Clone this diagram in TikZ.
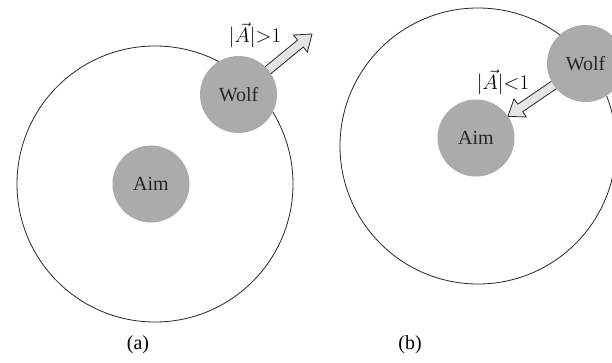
\documentclass[tikz,border=0pt]{standalone}
\usepackage{fontspec}
\setmainfont{Liberation Serif}
\usetikzlibrary{calc,backgrounds}

% fat hollow arrow from #1 to #2
\newcommand{\fatarrow}[2]{%
  \coordinate (fa-h) at ($(#2)!15pt!(#1)$);
  \draw[fatarrow] ($(#1)!4.5pt!90:(#2)$) -- ($(fa-h)!4.5pt!-90:(#1)$) -- ($(fa-h)!11pt!-90:(#1)$)
    -- (#2) -- ($(fa-h)!11pt!90:(#1)$) -- ($(fa-h)!4.5pt!90:(#1)$) -- ($(#1)!4.5pt!-90:(#2)$) -- cycle;}

\begin{document}
\begin{tikzpicture}[x=1pt, y=1pt, font=\fontsize{20}{24}\selectfont]
        \tikzstyle{agent}=[circle, fill=black!33, inner sep=0pt, minimum size=77pt, text=black!85]
        \tikzstyle{huntring}=[draw=black!85, line width=0.8pt]
        \tikzstyle{fatarrow}=[draw=black!85, fill=black!10, line width=0.8pt, line join=miter]
        \clip (0,0) rectangle (612,362);

        % Case (a)
        \coordinate (ca) at (155,178);
        \draw[huntring] (ca) circle[radius=138];
        \node[agent] (aima) at (151,178) {Aim};
        \node[agent] (wolfa) at (238.5,267.5) {Wolf};
        \coordinate (tipa) at (312,328);
        \begin{scope}[on background layer]
            \fatarrow{wolfa.center}{tipa}
        \end{scope}
        \node[inner sep=1pt] (labela) at (255,327) {$|\vec{A}|{>}1$};
        \node (capa) at (138,17) {(a)};

        % Case (b)
        \coordinate (cb) at (478,216);
        \draw[huntring] (cb) circle[radius=138];
        \node[agent] (aimb) at (476,224) {Aim};
        \node[agent] (wolfb) at (585.5,298.5) {Wolf};
        \coordinate (tipb) at ($(aimb)!38.5pt!(wolfb)$);
        \begin{scope}[on background layer]
            \fatarrow{wolfb.center}{tipb}
        \end{scope}
        \node[inner sep=1pt] (labelb) at (503,280) {$|\vec{A}|{<}1$};
        \node (capb) at (410,17) {(b)};
    \end{tikzpicture}
\end{document}
